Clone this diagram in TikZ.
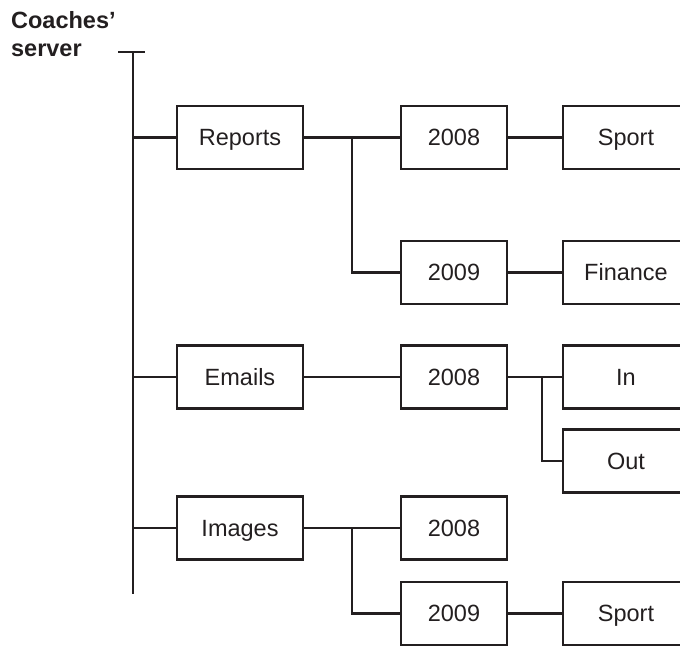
\documentclass[tikz,border=0pt]{standalone}
\usepackage{fontspec}
\setmainfont{Liberation Sans}
\definecolor{ink}{HTML}{231F20}

\begin{document}
\begin{tikzpicture}[x=1pt, y=-1pt, color=ink, line width=2.3pt,
        box/.style = {draw, rectangle,
            minimum width = 126pt,
            minimum height = 63pt,
            inner sep = 0pt,
            text height = 16.8pt, text depth = 0pt,
            font = \fontsize{23.5}{28}\selectfont,
        },
        year/.style = {box, minimum width = 106pt}]

        \useasboundingbox (0,0) rectangle (680,646);

        % Title
        \node[anchor=north west, inner sep=0pt, align=left,
            font=\fontsize{23.5}{28}\selectfont\bfseries] (title) at (10,10) {Coaches’\\server};

        % Trunk
        \coordinate (top) at (133,52);
        \coordinate (bottom) at (133,594);
        \coordinate (tickL) at (118,52);
        \coordinate (tickR) at (145,52);
        \draw (top) -- (bottom);
        \draw (tickL) -- (tickR);

        % Reports
        \node[box] (reports) at (240,137.5) {Reports};
        \node[year] (r08) at (454,137.5) {2008};
        \node[year] (r09) at (454,272.5) {2009};
        \node[box] (rsport) at (626,137.5) {Sport};
        \node[box] (rfin) at (626,272.5) {Finance};
        \coordinate (jr) at (352,137.5);

        \draw (reports.west) -- (top |- reports.west);
        \draw (reports) -- (r08);
        \draw (jr) |- (r09);
        \draw (r08) -- (rsport);
        \draw (r09) -- (rfin);

        % Emails
        \node[box] (emails) at (240,377) {Emails};
        \node[year] (e08) at (454,377) {2008};
        \node[box] (ein) at (626,377) {In};
        \node[box] (eout) at (626,461) {Out};
        \coordinate (je) at (542,377);

        \draw (emails.west) -- (top |- emails.west);
        \draw (emails) -- (e08);
        \draw (e08) -- (ein);
        \draw (je) |- (eout);

        % Images
        \node[box] (images) at (240,528) {Images};
        \node[year] (i08) at (454,528) {2008};
        \node[year] (i09) at (454,613.5) {2009};
        \node[box] (isport) at (626,613.5) {Sport};
        \coordinate (ji) at (352,528);

        \draw (images.west) -- (top |- images.west);
        \draw (images) -- (i08);
        \draw (ji) |- (i09);
        \draw (i09) -- (isport);

    \end{tikzpicture}
\end{document}
